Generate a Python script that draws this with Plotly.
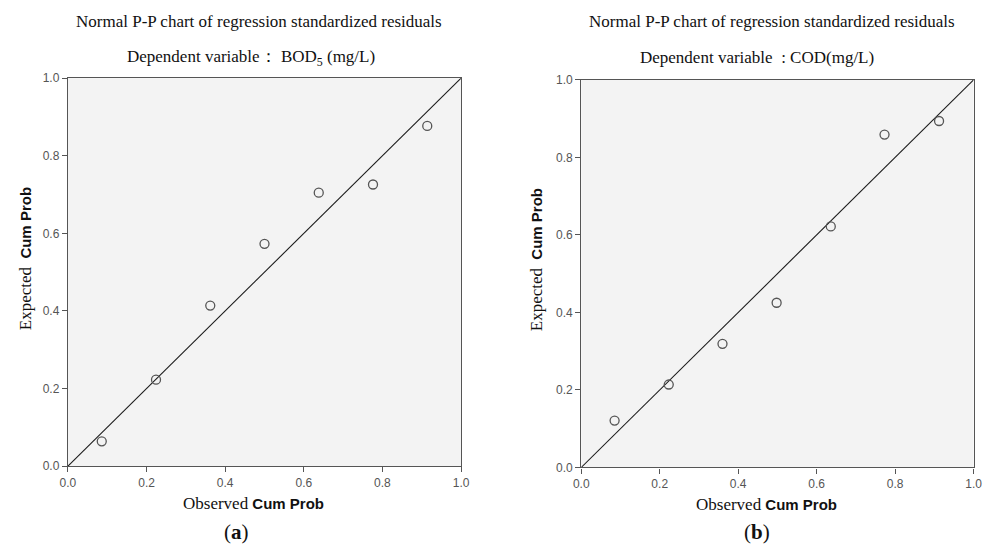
import plotly.graph_objects as go

W, H = 987, 558

# Data
observed_a = [0.086, 0.224, 0.362, 0.500, 0.638, 0.776, 0.914]
expected_a = [0.064, 0.223, 0.414, 0.573, 0.705, 0.726, 0.877]
observed_b = [0.085, 0.223, 0.360, 0.498, 0.636, 0.773, 0.912]
expected_b = [0.121, 0.214, 0.319, 0.425, 0.622, 0.859, 0.894]
ref_line = [0.0, 1.0]
tick_vals = [0.0, 0.2, 0.4, 0.6, 0.8, 1.0]
tick_text = ["0.0", "0.2", "0.4", "0.6", "0.8", "1.0"]

SERIF = "Liberation Serif, Times New Roman, serif"
SANS = "Liberation Sans, Arial, sans-serif"

fig = go.Figure()

for i, (ox, ey) in enumerate([(observed_a, expected_a), (observed_b, expected_b)]):
    xa = "x" if i == 0 else "x2"
    ya = "y" if i == 0 else "y2"
    fig.add_trace(go.Scatter(x=ref_line, y=ref_line, mode="lines",
                             line=dict(color="#1a1a1a", width=1.1),
                             xaxis=xa, yaxis=ya, showlegend=False, hoverinfo="skip"))
    fig.add_trace(go.Scatter(x=ox, y=ey, mode="markers",
                             marker=dict(symbol="circle-open", size=9,
                                         color="#555555", line=dict(width=1.3, color="#555555")),
                             xaxis=xa, yaxis=ya, showlegend=False))

def px_x(p):
    return p / W

def px_y(p):
    return 1 - p / H

axis_common = dict(range=[0, 1], tickvals=tick_vals, ticktext=tick_text,
                   ticks="outside", ticklen=5, tickwidth=1.2, tickcolor="#555555",
                   showline=True, linecolor="#555555", linewidth=1.4, mirror=True,
                   showgrid=False, zeroline=False, fixedrange=True,
                   tickfont=dict(family=SANS, size=12, color="#555555"))

fig.update_layout(
    width=W, height=H, autosize=False,
    margin=dict(l=0, r=0, t=0, b=0),
    paper_bgcolor="white", plot_bgcolor="#f3f3f3",
    xaxis=dict(domain=[px_x(61), px_x(461)], anchor="y", **axis_common),
    yaxis=dict(domain=[px_y(471), px_y(73)], anchor="x", **axis_common),
    xaxis2=dict(domain=[px_x(583.3), px_x(982.5)], anchor="y2", **axis_common),
    yaxis2=dict(domain=[px_y(472.3), px_y(74.8)], anchor="x2", **axis_common),
)

ann = []
def add(text, x, y, size, family=SERIF, angle=0, color="#111111"):
    ann.append(dict(text=text, x=px_x(x), y=px_y(y), xref="paper", yref="paper",
                    showarrow=False, xanchor="center", yanchor="middle",
                    textangle=angle, font=dict(family=family, size=size, color=color)))

# Titles
add("Normal P-P chart of regression standardized residuals", 255, 15, 17)
add("Dependent variable： BOD<sub>5</sub> (mg/L)", 247, 52, 17)
add("Normal P-P chart of regression standardized residuals", 777, 15, 17)
add("Dependent variable  : COD(mg/L)", 762, 52, 17)

# Axis titles
ytitle = ("<span style=\"font-family:'Liberation Serif';font-weight:normal;font-size:17px\">Expected</span>"
          "  <b>Cum Prob</b>")
add(ytitle, 18, 258, 15, family=SANS, angle=-90)
add(ytitle, 538, 259, 15, family=SANS, angle=-90)
xtitle = ("<span style=\"font-family:'Liberation Serif';font-size:17px\">Observed</span>"
          " <b>Cum Prob</b>")
add(xtitle, 250, 509, 15, family=SANS)
add(xtitle, 772, 510, 15, family=SANS)

# Panel labels
add("(<b>a</b>)", 232, 538, 21)
add("(<b>b</b>)", 762, 538, 21)

fig.update_layout(annotations=ann)
fig.write_html("out.html")
